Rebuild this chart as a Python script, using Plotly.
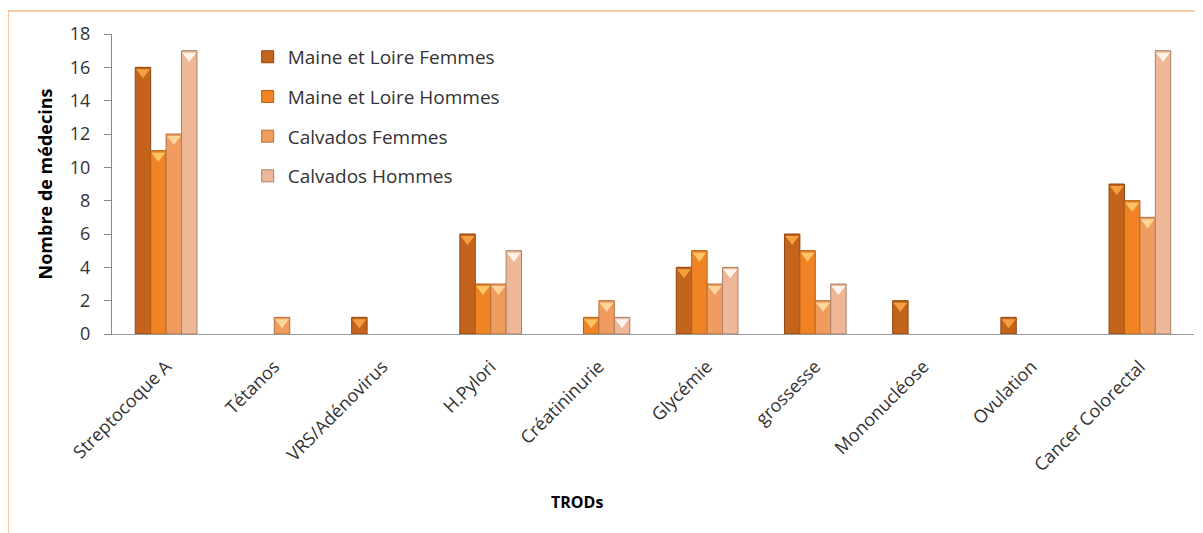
import plotly.graph_objects as go

categories = ["Streptocoque A", "Tétanos", "VRS/Adénovirus", "H.Pylori", "Créatininurie",
              "Glycémie", "grossesse", "Mononucléose", "Ovulation", "Cancer Colorectal"]
maine_femmes = [16, 0, 1, 6, 0, 4, 6, 2, 1, 9]
maine_hommes = [11, 0, 0, 3, 1, 5, 5, 0, 0, 8]
calvados_femmes = [12, 1, 0, 3, 2, 3, 2, 0, 0, 7]
calvados_hommes = [17, 0, 0, 5, 1, 4, 3, 0, 0, 17]

# name, values, fill, outline, bevel highlight
series = [
    ("Maine et Loire Femmes", maine_femmes, "#C4641C", "#8E4410", "#F2A040"),
    ("Maine et Loire Hommes", maine_hommes, "#F08424", "#B05E14", "#FFC468"),
    ("Calvados Femmes", calvados_femmes, "#F09C5E", "#B4703E", "#FFD59A"),
    ("Calvados Hommes", calvados_hommes, "#EEB898", "#A88068", "#FFF4EC"),
]

fig = go.Figure()
for i, (name, vals, color, edge, light) in enumerate(series):
    shown = [v if v else None for v in vals]
    fig.add_trace(go.Bar(
        x=categories, y=shown, name=name, legendgroup=str(i), offsetgroup=str(i),
        marker=dict(color=color, line=dict(color=edge, width=1)),
    ))
for i, (name, vals, color, edge, light) in enumerate(series):
    # little bevel triangle just under the top of each bar
    tops = [v - 0.3 if v else None for v in vals]
    fig.add_trace(go.Scatter(
        x=categories, y=tops, mode="markers", offsetgroup=str(i),
        legendgroup=str(i), showlegend=False, hoverinfo="skip",
        marker=dict(symbol="triangle-down", size=12, color=light, line=dict(width=0)),
    ))

# the page body adds an 8px offset, so margins are shifted by 8px
fig.update_layout(
    width=1203, height=533,
    margin=dict(l=104, r=17, t=26, b=207),
    paper_bgcolor="white", plot_bgcolor="white",
    barmode="group", bargap=0.43, bargroupgap=0,
    scattermode="group", scattergap=0.43,
    font=dict(family="Open Sans, sans-serif", color="#262626"),
    legend=dict(
        x=0.1254, y=0.987, xanchor="left", yanchor="top",
        font=dict(size=19, color="#333333"),
        tracegroupgap=12, bgcolor="rgba(0,0,0,0)",
    ),
    showlegend=True,
)
fig.update_yaxes(
    range=[0, 18], dtick=2, showgrid=False, automargin=False,
    showline=True, linecolor="#888888", linewidth=1,
    ticks="outside", ticklen=7, tickcolor="#888888",
    ticklabelstandoff=10,
    tickfont=dict(size=18, color="#333333"),
    title=dict(text="<b>Nombre de médecins</b>", font=dict(size=18, color="#000000"), standoff=12),
)
fig.update_xaxes(
    showgrid=False, showline=True, linecolor="#999999", linewidth=1,
    ticks="", tickangle=-45, automargin=False,
    ticklabelstandoff=14,
    tickfont=dict(size=18, color="#333333"),
)

fig.add_annotation(text="<b>TRODs</b>", xref="paper", yref="paper",
                   x=0.43, y=-0.603, showarrow=False,
                   font=dict(size=16, color="#000000"))

# chart frame
fig.add_shape(type="rect", xref="paper", yref="paper",
              x0=-0.0961, x1=1.05, y0=-0.9, y1=1.0767,
              line=dict(color="#F79646", width=1), layer="below")

fig.write_html("out.html")
